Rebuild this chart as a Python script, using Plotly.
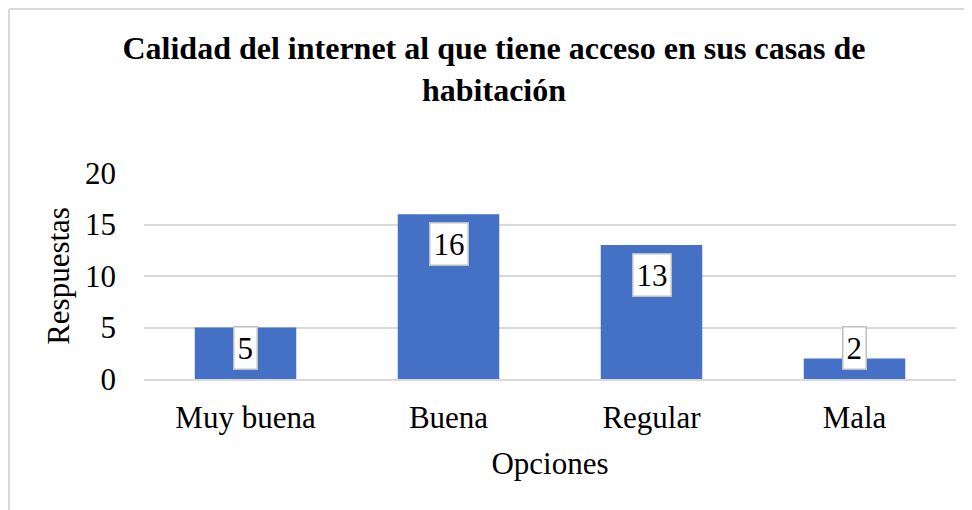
import plotly.graph_objects as go

categorias = ["Muy buena", "Buena", "Regular", "Mala"]
respuestas = [5, 16, 13, 2]
ticks_y = [0, 5, 10, 15, 20]

FONT = "Liberation Serif, Times New Roman, serif"

L, R, T, B = 136, 24, 165, 139
PW = 972 - L - R
PH = 510 - T - B

fig = go.Figure()
fig.add_trace(go.Bar(
    x=categorias, y=respuestas,
    marker=dict(color="#4470c6", line=dict(width=0)),
    width=0.5,
    hoverinfo="skip",
))

for c, v in zip(categorias, respuestas):
    fig.add_annotation(
        x=c, y=max(v - 0.8, 5.1), xref="x", yref="y",
        text=str(v), showarrow=False, yanchor="top",
        font=dict(family=FONT, size=31, color="black"),
        bgcolor="white", bordercolor="#bfbfbf", borderwidth=1.5, borderpad=3,
    )

fig.update_layout(
    width=972, height=510,
    margin=dict(l=L, r=R, t=T, b=B),
    paper_bgcolor="white", plot_bgcolor="white",
    showlegend=False,
    title=dict(
        text="<b>Calidad del internet al que tiene acceso en sus casas de<br>habitación</b>",
        x=(486 - L) / PW, xanchor="center", y=1 - 51 / 510, yanchor="top",
        xref="paper",
        font=dict(family=FONT, size=32, color="black"),
    ),
    font=dict(family=FONT, color="black"),
    xaxis=dict(
        tickfont=dict(family=FONT, size=31, color="black"),
        title=dict(text="Opciones", font=dict(family=FONT, size=31, color="black"), standoff=18),
        showline=True, linecolor="#d9d9d9", linewidth=2, ticks="", ticklabelstandoff=10,
    ),
    yaxis=dict(
        range=[0, 20], tickvals=ticks_y,
        tickfont=dict(family=FONT, size=31, color="black"),
        title=dict(text="Respuestas", font=dict(family=FONT, size=31, color="black"), standoff=6),
        showgrid=True, gridcolor="#d9d9d9", gridwidth=2,
        zeroline=False, showline=False, ticks="", ticklabelstandoff=27,
    ),
    shapes=[
        dict(type="line", xref="paper", yref="paper",
             x0=(1 - L) / PW, x1=(1 - L) / PW, y0=(PH + T - 1) / PH, y1=-(B + 10) / PH,
             line=dict(color="#d9d9d9", width=2)),
        dict(type="line", xref="paper", yref="paper",
             x0=(1 - L) / PW, x1=(990 - L) / PW, y0=(PH + T - 1) / PH, y1=(PH + T - 1) / PH,
             line=dict(color="#d9d9d9", width=2)),
    ],
)

fig.write_html("out.html")
